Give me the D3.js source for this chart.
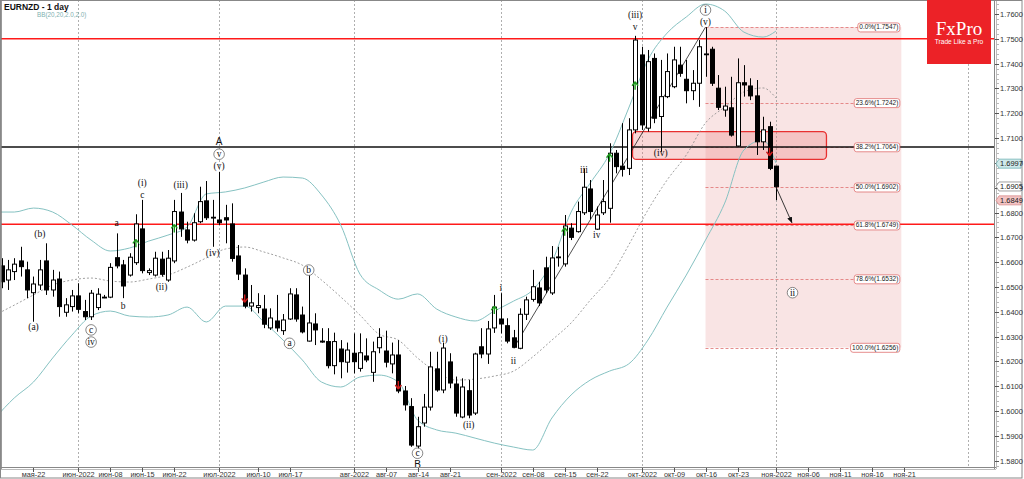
<!DOCTYPE html>
<html><head><meta charset="utf-8">
<script src="https://cdn.jsdelivr.net/npm/d3@7"></script>
<style>body{margin:0;background:#fff;}svg{display:block;}</style>
</head><body>
<svg id="c" width="1024" height="479"></svg>
<script>
// ---------- DATA ----------
const firstBar = -12; // bar index of first candle (0 = 1 June 2022)
const open=[1.6585,1.6528,1.6562,1.6605,1.6569,1.6477,1.6508,1.6605,1.6488,1.6532,
1.6398,1.6421,1.6464,1.6401,1.6380,1.6417,1.6459,1.6459,1.6618,1.6589,
1.6548,1.6598,1.6734,1.6558,1.6548,1.6612,1.6528,1.6605,1.6802,1.6730,
1.6689,1.6763,1.6847,1.6781,1.6770,1.6779,1.6754,1.6625,1.6548,1.6423,
1.6417,1.6411,1.6335,1.6363,1.6324,1.6371,1.6468,1.6387,1.6282,1.6351,
1.6278,1.6280,1.6183,1.6250,1.6197,1.6233,1.6172,1.6222,1.6156,1.6255,
1.6242,1.6190,1.6226,1.6081,1.6018,1.5859,1.5952,1.6016,1.6170,1.6085,
1.6198,1.6109,1.5976,1.6082,1.5992,1.6259,1.6230,1.6335,1.6371,1.6344,
1.6295,1.6253,1.6390,1.6450,1.6496,1.6577,1.6476,1.6621,1.6593,1.6737,
1.6723,1.6799,1.6895,1.6733,1.6799,1.6817,1.7039,1.6987,1.6978,1.7133,
1.7435,1.7140,1.7421,1.7187,1.7267,1.7307,1.7394,1.7337,1.7291,1.7321,
1.7439,1.7458,1.7301,1.7213,1.7222,1.7068,1.7323,1.7310,1.7270,1.7085,
1.7146,1.6987];
const high=[1.6616,1.6609,1.6616,1.6662,1.6602,1.6542,1.6609,1.6676,1.6569,1.6562,
1.6455,1.6488,1.6515,1.6448,1.6488,1.6495,1.6468,1.6596,1.6716,1.6609,
1.6636,1.6793,1.6851,1.6575,1.6642,1.6642,1.6649,1.6851,1.6879,1.6763,
1.6797,1.6904,1.6927,1.6851,1.6964,1.6831,1.6837,1.6669,1.6575,1.6508,
1.6475,1.6468,1.6414,1.6468,1.6391,1.6495,1.6495,1.6421,1.6548,1.6394,
1.6334,1.6334,1.6316,1.6286,1.6276,1.6313,1.6313,1.6293,1.6280,1.6334,
1.6324,1.6276,1.6286,1.6101,1.6052,1.5977,1.6069,1.6239,1.6239,1.6276,
1.6233,1.6139,1.6132,1.6125,1.6235,1.6334,1.6363,1.6468,1.6475,1.6374,
1.6327,1.6414,1.6461,1.6569,1.6521,1.6622,1.6665,1.6662,1.6790,1.6757,
1.6844,1.6978,1.6931,1.6824,1.6931,1.7079,1.7052,1.7160,1.7180,1.7512,
1.7468,1.7455,1.7441,1.7415,1.7441,1.7468,1.7468,1.7415,1.7374,1.7495,
1.7547,1.7468,1.7354,1.7307,1.7347,1.7421,1.7394,1.7341,1.7334,1.7186,
1.7166,1.6987];
const low=[1.6495,1.6488,1.6528,1.6542,1.6455,1.6360,1.6488,1.6468,1.6461,1.6380,
1.6380,1.6401,1.6394,1.6367,1.6367,1.6407,1.6455,1.6455,1.6575,1.6455,
1.6542,1.6589,1.6555,1.6548,1.6542,1.6542,1.6521,1.6596,1.6702,1.6676,
1.6683,1.6757,1.6770,1.6662,1.6750,1.6676,1.6602,1.6528,1.6414,1.6401,
1.6394,1.6334,1.6327,1.6320,1.6307,1.6367,1.6360,1.6313,1.6280,1.6266,
1.6275,1.6172,1.6148,1.6132,1.6155,1.6152,1.6159,1.6197,1.6118,1.6233,
1.6176,1.6152,1.6072,1.6002,1.5856,1.5846,1.5937,1.6002,1.6078,1.6072,
1.6092,1.5977,1.5971,1.5971,1.5984,1.6213,1.6190,1.6315,1.6313,1.6273,
1.6253,1.6249,1.6367,1.6441,1.6423,1.6475,1.6468,1.6582,1.6582,1.6689,
1.6719,1.6790,1.6773,1.6730,1.6790,1.6759,1.6958,1.6945,1.6951,1.7119,
1.7133,1.7126,1.7160,1.7045,1.7261,1.7301,1.7347,1.7240,1.7253,1.7226,
1.7347,1.7310,1.7213,1.7186,1.7106,1.7065,1.7267,1.7253,1.7032,1.7052,
1.6971,1.6850];
const close=[1.6521,1.6569,1.6592,1.6582,1.6488,1.6512,1.6569,1.6488,1.6528,1.6421,
1.6428,1.6464,1.6410,1.6380,1.6475,1.6471,1.6458,1.6579,1.6585,1.6504,
1.6620,1.6754,1.6566,1.6566,1.6616,1.6551,1.6616,1.6804,1.6734,1.6689,
1.6759,1.6844,1.6779,1.6779,1.6759,1.6770,1.6615,1.6552,1.6423,1.6436,
1.6425,1.6350,1.6375,1.6335,1.6367,1.6472,1.6371,1.6319,1.6355,1.6327,
1.6282,1.6183,1.6280,1.6199,1.6246,1.6199,1.6235,1.6206,1.6239,1.6297,
1.6197,1.6226,1.6081,1.6025,1.5863,1.5937,1.6016,1.6178,1.6085,1.6254,
1.6113,1.5992,1.6097,1.5984,1.6230,1.6230,1.6331,1.6419,1.6351,1.6282,
1.6257,1.6390,1.6448,1.6501,1.6436,1.6488,1.6617,1.6619,1.6746,1.6700,
1.6804,1.6902,1.6804,1.6790,1.6844,1.7039,1.6985,1.6974,1.7133,1.7495,
1.7153,1.7408,1.7180,1.7267,1.7368,1.7415,1.7361,1.7291,1.7321,1.7468,
1.7437,1.7321,1.7224,1.7229,1.7112,1.7323,1.7314,1.7270,1.7085,1.7133,
1.6978,1.6904];

// Bollinger Bands (20, 2.0) sampled at bar indices
const bbBar=[-13,-10,-7,-4,-1,2,5,8,11,14,17,20,23,26,29,32,35,38,41,44,47,50,53,56,59,62,65,68,71,74,77,80,83,86,89,92,95,98,101,104,107,109];
const bbUpper=[1.6802,1.6802,1.6818,1.6802,1.6750,1.6689,1.6645,1.6657,1.6685,1.6709,1.6742,1.6875,1.6883,1.6899,1.6923,1.6943,1.6939,1.6871,1.6750,1.6552,1.6488,1.6451,1.6472,1.6411,1.6379,1.6363,1.6403,1.6443,1.6488,1.6601,1.6802,1.6919,1.7036,1.7221,1.7415,1.7523,1.7588,1.7640,1.7612,1.7527,1.7507,1.7531];
const bbMiddle=[1.6387,1.6427,1.6468,1.6508,1.6528,1.6536,1.6524,1.6520,1.6532,1.6548,1.6580,1.6617,1.6653,1.6661,1.6641,1.6617,1.6588,1.6528,1.6460,1.6387,1.6310,1.6286,1.6214,1.6157,1.6125,1.6129,1.6141,1.6161,1.6218,1.6286,1.6355,1.6447,1.6536,1.6669,1.6810,1.6931,1.7032,1.7161,1.7225,1.7286,1.7302,1.7262];
const bbLower=[1.5972,1.6053,1.6117,1.6214,1.6306,1.6383,1.6403,1.6383,1.6379,1.6387,1.6419,1.6359,1.6423,1.6423,1.6359,1.6286,1.6206,1.6117,1.6097,1.6137,1.6145,1.6117,1.5964,1.5924,1.5911,1.5891,1.5871,1.5855,1.5843,1.5972,1.6065,1.6125,1.6161,1.6190,1.6286,1.6419,1.6548,1.6689,1.6838,1.7052,1.7092,1.7000];

// horizontal levels
const redLevels=[1.7500,1.6753];
const blackLevels=[1.7064];

// Fibonacci retracement
const fibStartBar=98, fibEndBar=128.6;
const fibPct=["0.0","23.6","38.2","50.0","61.8","78.6","100.0"];
const fibPrice=[1.7547,1.7242,1.7064,1.6902,1.6749,1.6532,1.6256];

// resistance zone
const zoneBars=[86.6,116.9], zonePrices=[1.7126,1.7014];

// trend line (ii low to (v) high)
const trendBars=[68,98], trendPrices=[1.6253,1.7547];

// projection arrow
const arrowBars=[109,111.5], arrowPrices=[1.6904,1.6759];

// Elliott wave labels
const waveText=["(a)","(b)","c","iv","b","a","c","(i)","(ii)","(iii)","(iv)","(v)","v","A","a","b","c","B","(i)","(ii)","i","ii","iii","iv","v","(iii)","(iv)","(v)","i","ii"];
const waveBar=[-7,-6,2,2,7,6,10,10,13,16,21,22,22,22,33,36,53,53,57,61,66,68,79,81,87,87,91,98,98,111.6];
const wavePrice=[1.6339,1.6716,1.6327,1.6278,1.6423,1.6757,1.6871,1.6919,1.6500,1.6911,1.6638,1.6987,1.7035,1.7085,1.6273,1.6568,1.5830,1.5782,1.6289,1.5944,1.6495,1.6203,1.6971,1.6709,1.7549,1.7596,1.7041,1.7569,1.7616,1.6477];
const waveKind=["t","t","o","o","t","t","t","t","t","t","t","t","o","s","o","o","o","s","t","t","t","t","t","t","t","t","t","t","o","o"];

// band-cross signal arrows
const upArrowBar=[9,15,65,76,83,87], upArrowPrice=[1.6676,1.6736,1.6407,1.6723,1.7021,1.7311];
const downArrowBar=[26,50,108], downArrowPrice=[1.6454,1.6105,1.7045];

// axis
const priceTicks=d3.range(1.58,1.7601,0.01);
const xTickText=["мая-22","июн-2022","июн-08","июн-15","июн-22","июл-2022","июл-10","июл-17","авг-2022","авг-07","авг-14","авг-21","сен-2022","сен-08","сен-15","сен-22","окт-2022","окт-09","окт-16","окт-23","ноя-2022","ноя-06","ноя-11","ноя-16","ноя-21"];
const xTickBar=[-7,0,5,10,15,22,28,33,43,48,53,58,66,71,76,81,88,93,98,103,109,114,119,124,129];
const separatorBars=[0,22,43,66,88,109,139];
const axisMarkValue=[1.6997,1.6905,1.6849];
const axisMarkFill=["#cfe9ea","#ffffff","#f3c4c4"];
const axisMarkStroke=["#6fb0b3","#888888","#d98c8c"];

// ---------- CHART ----------
const svg=d3.select("#c");
const W=1024,H=479, plotR=994, plotB=467;
const x=d3.scaleLinear().domain([0,109]).range([78.3,775.9]);
const y=d3.scaleLinear().domain([1.58,1.76]).range([460.7,14]);
const bars=open.map((o,i)=>({i:firstBar+i,o,h:high[i],l:low[i],c:close[i]}));

svg.append("rect").attr("width",W).attr("height",H).attr("fill","#fff");
svg.append("defs").append("clipPath").attr("id","plot").append("rect")
  .attr("x",1).attr("y",0).attr("width",plotR-1).attr("height",plotB);
svg.select("defs").append("marker").attr("id","ah").attr("viewBox","0 0 10 10")
  .attr("refX",9).attr("refY",5).attr("markerWidth",7).attr("markerHeight",7).attr("orient","auto")
  .append("path").attr("d","M0,1 L10,5 L0,9 Z").attr("fill","#111");

const g=svg.append("g").attr("clip-path","url(#plot)");

// fib shaded area
g.append("rect").attr("x",x(fibStartBar)).attr("y",y(fibPrice[0]))
  .attr("width",x(fibEndBar)-x(fibStartBar)).attr("height",y(fibPrice[6])-y(fibPrice[0]))
  .attr("fill","#e89090").attr("fill-opacity",0.24);

// month separators
g.selectAll(".sep").data(separatorBars).enter().append("line")
  .attr("x1",d=>Math.round(x(d))+0.5).attr("x2",d=>Math.round(x(d))+0.5)
  .attr("y1",0).attr("y2",plotB).attr("stroke","#9a9a9a").attr("stroke-width",0.8)
  .attr("stroke-dasharray","2,2");

// zone box
g.append("rect").attr("x",x(zoneBars[0])).attr("y",y(zonePrices[0]))
  .attr("width",x(zoneBars[1])-x(zoneBars[0])).attr("height",y(zonePrices[1])-y(zonePrices[0]))
  .attr("rx",4).attr("fill","#ec7a7a").attr("fill-opacity",0.3)
  .attr("stroke","#e83030").attr("stroke-width",1.3);

// fib lines
const fibLabelW=[37,38,38,38,38,39,43];
fibPrice.forEach((p,k)=>{
  const yy=Math.round(y(p))+0.5;
  g.append("line").attr("x1",x(fibStartBar)).attr("x2",x(fibEndBar)-fibLabelW[k])
    .attr("y1",yy).attr("y2",yy).attr("stroke","#e07070").attr("stroke-width",0.8).attr("stroke-dasharray","3,2");
});

// horizontal levels
redLevels.forEach(p=>g.append("line").attr("x1",0).attr("x2",plotR).attr("y1",y(p)).attr("y2",y(p))
  .attr("stroke","#ff1a1a").attr("stroke-width",1.6));
blackLevels.forEach(p=>g.append("line").attr("x1",0).attr("x2",plotR).attr("y1",y(p)).attr("y2",y(p))
  .attr("stroke","#111").attr("stroke-width",1.4));

// Bollinger bands
const bbLine=arr=>d3.line().x((d,k)=>x(bbBar[k])).y(d=>y(d)).curve(d3.curveMonotoneX)(arr);
g.append("path").attr("d",bbLine(bbUpper)).attr("fill","none").attr("stroke","#86c2c2").attr("stroke-width",1);
g.append("path").attr("d",bbLine(bbLower)).attr("fill","none").attr("stroke","#86c2c2").attr("stroke-width",1);
g.append("path").attr("d",bbLine(bbMiddle)).attr("fill","none").attr("stroke","#888").attr("stroke-width",0.8).attr("stroke-dasharray","2,2");

// trend line
g.append("line").attr("x1",x(trendBars[0])).attr("y1",y(trendPrices[0]))
  .attr("x2",x(trendBars[1])).attr("y2",y(trendPrices[1])).attr("stroke","#222").attr("stroke-width",0.8);

// candles
const cg=g.append("g");
bars.forEach(b=>{
  const cx=Math.round(x(b.i))+0.5;
  cg.append("line").attr("x1",cx).attr("x2",cx).attr("y1",y(b.h)).attr("y2",y(b.l)).attr("stroke","#000").attr("stroke-width",1);
  const top=y(Math.max(b.o,b.c)), bot=y(Math.min(b.o,b.c));
  cg.append("rect").attr("x",cx-2).attr("y",top).attr("width",4).attr("height",Math.max(bot-top,0.8))
    .attr("fill",b.c>=b.o?"#fff":"#000").attr("stroke","#000").attr("stroke-width",1);
});

// signal arrows
upArrowBar.forEach((b,k)=>{
  const cx=x(b), cy=y(upArrowPrice[k]);
  g.append("path").attr("d",`M${cx},${cy-4} L${cx-3},${cy} M${cx},${cy-4} L${cx+3},${cy} M${cx},${cy-4} L${cx},${cy+4}`)
    .attr("stroke","#1c9a1c").attr("stroke-width",1.4).attr("fill","none");
});
downArrowBar.forEach((b,k)=>{
  const cx=x(b), cy=y(downArrowPrice[k]);
  g.append("path").attr("d",`M${cx},${cy+4} L${cx-3},${cy} M${cx},${cy+4} L${cx+3},${cy} M${cx},${cy+4} L${cx},${cy-4}`)
    .attr("stroke","#d01c1c").attr("stroke-width",1.4).attr("fill","none");
});

// projection arrow
g.append("line").attr("x1",x(arrowBars[0])).attr("y1",y(arrowPrices[0]))
  .attr("x2",x(arrowBars[1])).attr("y2",y(arrowPrices[1])).attr("stroke","#222").attr("stroke-width",0.9)
  .attr("marker-end","url(#ah)");

// fib labels
fibPrice.forEach((p,k)=>{
  const t=g.append("text").attr("x",x(fibEndBar)-3).attr("y",y(p)).attr("dy","0.35em")
    .attr("text-anchor","end").attr("font-family","Liberation Sans, Arial").attr("font-size",6.5).attr("fill","#222")
    .text(fibPct[k]+"%("+p.toFixed(4)+")");
  const bb=t.node().getBBox();
  g.insert("rect",()=>t.node()).attr("x",bb.x-1.5).attr("y",bb.y-0.5).attr("width",bb.width+3).attr("height",bb.height+1)
    .attr("rx",2.5).attr("fill","#fff").attr("stroke","#e07070").attr("stroke-width",0.8);
});

// wave labels
waveText.forEach((t,k)=>{
  const cx=x(waveBar[k]), cy=y(wavePrice[k]);
  if(waveKind[k]==="o"){
    g.append("circle").attr("cx",cx).attr("cy",cy).attr("r",5.3).attr("fill","#fff").attr("stroke","#555").attr("stroke-width",0.7);
  }
  g.append("text").attr("x",cx).attr("y",cy).attr("dy","0.33em").attr("text-anchor","middle")
    .attr("font-family",waveKind[k]==="s"?"Liberation Sans, Arial":"Liberation Serif, Times New Roman")
    .attr("font-size",waveKind[k]==="s"?10:9.5).attr("fill","#111").text(t);
});

// frame & axes
svg.append("line").attr("x1",1).attr("x2",1).attr("y1",0).attr("y2",plotB+2).attr("stroke","#777").attr("stroke-width",1.5);
svg.append("line").attr("x1",plotR+0.5).attr("x2",plotR+0.5).attr("y1",0).attr("y2",plotB+2).attr("stroke","#888");
svg.append("line").attr("x1",plotR+2.5).attr("x2",plotR+2.5).attr("y1",0).attr("y2",plotB+2).attr("stroke","#bbb");
svg.append("line").attr("x1",0).attr("x2",plotR+2).attr("y1",plotB+0.5).attr("y2",plotB+0.5).attr("stroke","#888");
svg.append("line").attr("x1",0).attr("x2",plotR+2).attr("y1",plotB+2.5).attr("y2",plotB+2.5).attr("stroke","#bbb");
svg.append("rect").attr("x",0.5).attr("y",0.5).attr("width",W-2.5).attr("height",H-1.5).attr("fill","none").attr("stroke","#888");

// price axis
const ax=svg.append("g");
d3.range(1.578,1.7661,0.002).forEach(p=>{
  const yy=Math.round(y(p))+0.5;
  if(yy<1||yy>plotB) return;
  ax.append("line").attr("x1",plotR+3).attr("x2",plotR+5).attr("y1",yy).attr("y2",yy).attr("stroke","#999").attr("stroke-width",0.7);
});
priceTicks.forEach(p=>{
  const yy=Math.round(y(p))+0.5;
  ax.append("line").attr("x1",plotR+1).attr("x2",plotR+5).attr("y1",yy).attr("y2",yy).attr("stroke","#555");
  ax.append("text").attr("x",plotR+6).attr("y",yy).attr("dy","0.35em").attr("font-family","Liberation Sans, Arial")
    .attr("font-size",7.5).attr("fill","#333").text(p.toFixed(4));
});
axisMarkValue.forEach((v,k)=>{
  const yy=y(v);
  ax.append("path").attr("d",`M${plotR+2},${yy} L${plotR+5},${yy-4.5} L${W-3},${yy-4.5} L${W-3},${yy+4.5} L${plotR+5},${yy+4.5} Z`)
    .attr("fill",axisMarkFill[k]).attr("stroke",axisMarkStroke[k]).attr("stroke-width",0.8);
  ax.append("text").attr("x",plotR+6).attr("y",yy).attr("dy","0.35em").attr("font-family","Liberation Sans, Arial")
    .attr("font-size",7.5).attr("fill","#222").text(v.toFixed(4));
});

// time axis
xTickBar.forEach((b,k)=>{
  const xx=Math.round(x(b))+0.5;
  ax.append("line").attr("x1",xx).attr("x2",xx).attr("y1",plotB+1).attr("y2",plotB+5).attr("stroke","#555");
  ax.append("text").attr("x",xx).attr("y",plotB+10).attr("text-anchor","middle").attr("font-family","Liberation Sans, Arial")
    .attr("font-size",7.3).attr("fill","#333").text(xTickText[k]);
});

// title
svg.append("text").attr("x",4).attr("y",9.5).attr("font-family","Liberation Sans, Arial").attr("font-weight","bold")
  .attr("font-size",8.5).attr("fill","#111").text("EURNZD - 1 day");
svg.append("text").attr("x",37).attr("y",17).attr("font-family","Liberation Sans, Arial")
  .attr("font-size",6.3).attr("fill","#7fb0b0").text("BB(20,20,2.0,2.0)");

// logo
const lg=svg.append("g");
lg.append("rect").attr("x",927).attr("y",0).attr("width",64).attr("height",64).attr("fill","#ec2227");
lg.append("text").attr("x",959).attr("y",35).attr("text-anchor","middle").attr("font-family","Liberation Serif, Times New Roman")
  .attr("font-size",19).attr("fill","#fff").text("FxPro");
lg.append("text").attr("x",959).attr("y",43.5).attr("text-anchor","middle").attr("font-family","Liberation Sans, Arial")
  .attr("font-size",6.6).attr("fill","#fff").text("Trade Like a Pro");
</script>
</body></html>
